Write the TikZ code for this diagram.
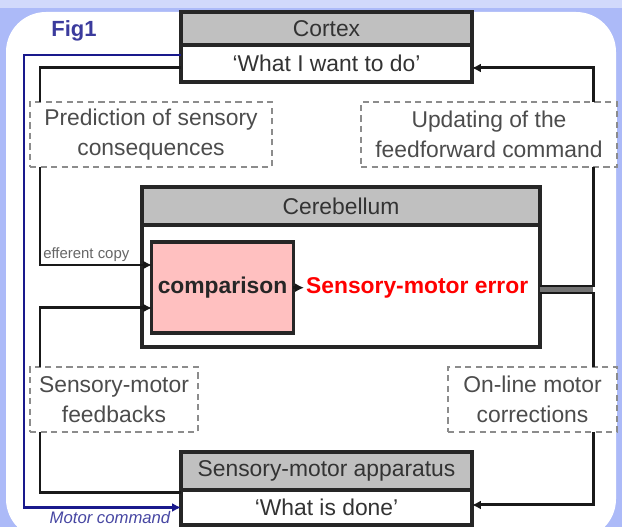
\documentclass[tikz,border=0pt]{standalone}
\usepackage{fontspec}
\setmainfont{Liberation Sans}
\usetikzlibrary{arrows.meta, positioning, calc}

\definecolor{bgblue}{RGB}{172,186,248}
\definecolor{headgray}{RGB}{192,192,192}
\definecolor{comppink}{RGB}{255,192,192}
\definecolor{navy}{RGB}{25,25,140}

\begin{document}
\begin{tikzpicture}[
    x=0.02cm, y=0.02cm,
    >={Latex[length=5pt,width=5pt]},
    font=\fontsize{13}{17}\selectfont,
    % Node styles
    headbox/.style={
        rectangle, draw=black!85, line width=1.8pt,
        fill=headgray, text=black!80, outer sep=0pt,
        align=center
    },
    bodybox/.style={
        rectangle, draw=black!85, line width=1.8pt,
        fill=white, text=black!80, outer sep=0pt,
        align=center
    },
    dashbox/.style={
        rectangle, draw=black!45, line width=1.4pt,
        dash pattern=on 3.5pt off 2.5pt,
        fill=white, text=black!70, outer sep=0pt,
        minimum height=1.3cm, align=center
    },
    compbox/.style={
        rectangle, draw=black!85, line width=1.8pt,
        fill=comppink, text=black!85, outer sep=0pt,
        minimum width=2.78cm, minimum height=1.82cm,
        font=\fontsize{13}{17}\selectfont\bfseries
    },
    errtxt/.style={text=red, inner sep=1pt, font=\fontsize{13}{17}\selectfont\bfseries},
    lnk/.style={draw=black!90, line width=1.7pt},
    motorln/.style={draw=navy, line width=1.3pt},
    lbl/.style={font=\fontsize{8.5}{9}\selectfont, text=black!60, inner sep=1pt},
    mclbl/.style={font=\fontsize{9.5}{10}\selectfont\itshape, text=navy!80, inner sep=1pt},
    figlbl/.style={font=\fontsize{12.5}{14}\selectfont\bfseries, text=navy!85},
]

%% ---- BACKGROUND ----
\clip (0,0) rectangle (622,527);
\fill[bgblue] (0,0) rectangle (622,527);
\fill[bgblue!55] (0,519) rectangle (622,527);
\fill[white, rounded corners=0.8cm] (6,-12) rectangle (616,515);

\node[figlbl] (fig) at (74,496) {Fig1};

%% ---- CORTEX ----
\node[headbox, minimum width=5.82cm, minimum height=0.66cm] (cortex) at (326.5,498.5) {Cortex};
\node[bodybox, minimum width=5.82cm, minimum height=0.74cm, below=0pt of cortex] (want) {`What I want to do'};

%% ---- UPPER DASHED BOXES ----
\node[dashbox, minimum width=4.84cm] (pred) at (151,392.5) {Prediction of sensory\\consequences};
\node[dashbox, minimum width=5.12cm] (upd) at (489,392.5) {Updating of the\\feedforward command};

%% ---- CEREBELLUM ----
\node[headbox, minimum width=7.96cm, minimum height=0.76cm] (cereb) at (341,321) {Cerebellum};
\node[bodybox, minimum width=7.96cm, minimum height=2.44cm, below=0pt of cereb] (cbody) {};
\node[compbox] (comp) at (222.5,239.5) {comparison};
\node[errtxt, anchor=west] (err) at (304,239) {Sensory-motor error};

%% ---- LOWER DASHED BOXES ----
\node[dashbox, minimum width=3.36cm] (fb) at (114,127.5) {Sensory-motor\\feedbacks};
\node[dashbox, minimum width=3.38cm] (onl) at (532.5,127.5) {On-line motor\\corrections};

%% ---- SENSORY-MOTOR APPARATUS ----
\node[headbox, minimum width=5.82cm, minimum height=0.76cm] (app) at (326.5,56) {Sensory-motor apparatus};
\node[bodybox, minimum width=5.82cm, minimum height=0.7cm, below=0pt of app] (done) {`What is done'};

%% ---- LOOP LINES ----
\coordinate (lx) at (40,0);
\coordinate (rx) at (593,0);
\coordinate (mc) at (24,0);

% Motor command
\draw[motorln,->] ([yshift=0.17cm]want.west) -| (mc |- done.west) -- (done.west);
\node[mclbl, anchor=south] (mcmd) at (110,1) {Motor command};

% Cortex -> prediction -> comparison
\draw[lnk] ([yshift=-0.09cm]want.west) -| (lx |- pred.north);
\draw[lnk,->] (lx |- pred.south) |- ([yshift=0.45cm]comp.west)
    node[pos=0.5, anchor=south west, lbl] {efferent copy};

% Apparatus -> feedbacks -> comparison
\draw[lnk] ([yshift=-0.06cm]done.north west) -| (lx |- fb.south);
\draw[lnk,->] (lx |- fb.north) |- ([yshift=-0.41cm]comp.west);

% Comparison -> error
\draw[lnk,->] (comp) -- (err);

% Error -> updating -> cortex
\fill[black!55] ($(cbody.east |- err)+(0,2)$) rectangle ($(rx |- err)+(0,-5)$);
\draw[lnk] ($(cbody.east |- err)+(0,2)$) -| (rx |- upd.south);
\draw[lnk,->] (rx |- upd.north) |- ([yshift=-0.09cm]want.east);

% Error -> on-line corrections -> apparatus
\draw[lnk] ($(cbody.east |- err)+(0,-5)$) -| (rx |- onl.north);
\draw[lnk,->] (rx |- onl.south) |- ([yshift=0.05cm]done.east);

\end{tikzpicture}
\end{document}
